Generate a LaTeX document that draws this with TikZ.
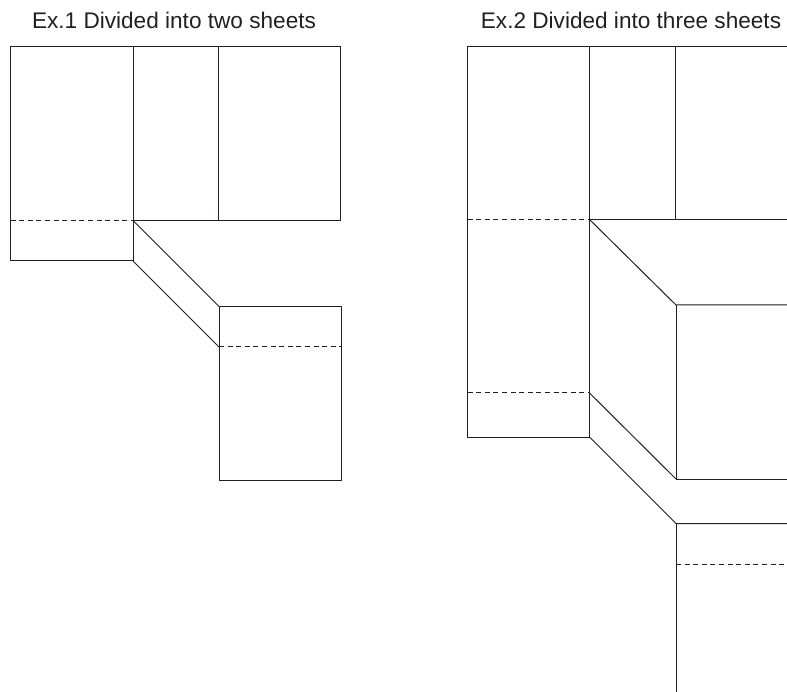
\documentclass[tikz,border=0pt]{standalone}
\usepackage{fontspec}
\setmainfont{Liberation Sans}
\definecolor{ink}{HTML}{231F20}
\tikzset{
  sheet/.style={draw=ink,line width=1pt,line join=miter},
  fold/.style={draw=ink,line width=1pt,dash pattern=on 5pt off 3.6pt},
  caption/.style={text=ink,font=\fontsize{22.6}{25}\selectfont,anchor=base,inner sep=0pt}
}
\begin{document}
\begin{tikzpicture}[x=1pt,y=-1pt]
\useasboundingbox (0,0) rectangle (787,692);
\node[caption] (t1) at (174,29) {Ex.1 Divided into two sheets};
\node[caption] (t2) at (631,29) {Ex.2 Divided into three sheets};
% Ex.1
\draw[sheet] (133,220.5) -- (340.5,220.5) -- (340.5,47) -- (10.5,47) -- (10.5,261) -- (133,261) -- (133,47);
\draw[sheet] (218.5,47) -- (218.5,220.5);
\draw[fold] (10.5,220.5) -- (133,220.5);
\draw[sheet] (133,220.5) -- (219,306.5);
\draw[sheet] (133,261) -- (219,347);
\draw[sheet] (219,306.5) rectangle (341,480.5);
\draw[fold] (219,347) -- (341,347);
% Ex.2
\draw[sheet] (787,46.5) -- (467.5,46.5) -- (467.5,437) -- (589.5,437) -- (589.5,46.5);
\draw[sheet] (675.5,46.5) -- (675.5,219.5);
\draw[sheet] (589.5,219.5) -- (787,219.5);
\draw[fold] (467.5,219.5) -- (589.5,219.5);
\draw[fold] (467.5,393) -- (589.5,393);
\draw[sheet] (589.5,219.5) -- (676,305) -- (787,305);
\draw[sheet] (676,305) -- (676,479) -- (787,479);
\draw[sheet] (589.5,393) -- (676,479);
\draw[sheet] (589.5,437) -- (676,523.5) -- (787,523.5);
\draw[sheet] (676,523.5) -- (676,692);
\draw[fold] (676,564) -- (787,564);
\end{tikzpicture}
\end{document}
